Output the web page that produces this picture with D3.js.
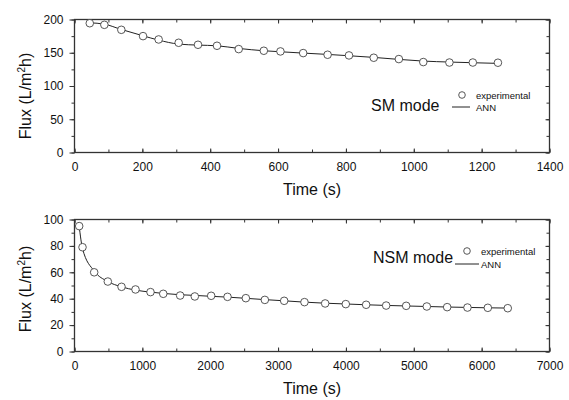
<!DOCTYPE html>
<html>
<head>
<meta charset="utf-8">
<script src="https://cdn.jsdelivr.net/npm/d3@7"></script>
<style>
  body { margin: 0; background: #fff; }
  svg { display: block; font-family: "Liberation Sans", Arial, sans-serif; }
</style>
</head>
<body>
<div id="chart"></div>
<script>
// SM mode (top panel)
var smTime = [45, 88, 138, 202, 248, 307, 364, 420, 484, 558, 607, 674, 746, 809, 882, 956, 1028, 1105, 1174, 1248];
var smExp  = [194.4, 192, 184.5, 175, 170, 165, 162, 160.5, 155.5, 153, 152, 149.5, 147, 146, 142.5, 140.5, 136, 135.3, 135.3, 135];
var smAnn  = [195, 193, 185, 175.5, 169, 163, 161.5, 160.5, 156.5, 153, 151.5, 149.5, 147.5, 145.5, 143, 140, 137.5, 136, 135, 134];

// NSM mode (bottom panel)
var nsmTime = [69, 118, 290, 491, 693, 899, 1120, 1308, 1557, 1773, 2014, 2255, 2525, 2805, 3090, 3389, 3694, 3998, 4298, 4593, 4888, 5192, 5492, 5791, 6091, 6385];
var nsmExp  = [95, 79, 60, 53, 49, 47, 45, 43.7, 42.4, 41.7, 42.2, 41.4, 40.4, 39.1, 38.4, 37.4, 36.4, 35.9, 35.4, 34.8, 34.6, 34.1, 33.6, 33.3, 33.1, 32.8];
var nsmAnn  = [95, 78, 61, 53, 49, 46.5, 45, 44, 43, 42.5, 41.8, 41.2, 40.3, 39.3, 38.4, 37.4, 36.6, 36, 35.4, 34.9, 34.5, 34.1, 33.7, 33.4, 33.1, 32.9];

var smXTicks = [0, 200, 400, 600, 800, 1000, 1200, 1400];
var smYTicks = [0, 50, 100, 150, 200];
var nsmXTicks = [0, 1000, 2000, 3000, 4000, 5000, 6000, 7000];
var nsmYTicks = [0, 20, 40, 60, 80, 100];

var W = 569, H = 400;
var ink = "#333";

var svg = d3.select("#chart").append("svg")
    .attr("width", W)
    .attr("height", H);

function drawPanel(cfg){
    var g = svg.append("g");
    var x = d3.scaleLinear().domain(cfg.xDomain).range([cfg.left, cfg.right]);
    var y = d3.scaleLinear().domain(cfg.yDomain).range([cfg.bottom, cfg.top]);

    var xMinor = d3.range(cfg.xDomain[0], cfg.xDomain[1] + 1e-9, cfg.xMinorStep);
    var yMinor = d3.range(cfg.yDomain[0], cfg.yDomain[1] + 1e-9, cfg.yMinorStep);

    // bottom axis: ticks point inward
    g.append("g")
        .attr("transform", "translate(0," + cfg.bottom + ")")
        .call(d3.axisBottom(x).tickValues(xMinor).tickSize(-3).tickFormat(""))
        .call(function(a){ a.select(".domain").remove(); a.selectAll("line").attr("stroke", ink); });
    g.append("g")
        .attr("transform", "translate(0," + cfg.bottom + ")")
        .call(d3.axisBottom(x).tickValues(cfg.xTicks).tickSize(-4).tickPadding(10).tickFormat(d3.format("d")))
        .call(function(a){
            a.select(".domain").remove();
            a.selectAll("line").attr("stroke", ink);
            a.selectAll("text").attr("font-size", 12).attr("fill", "#111")
                .attr("font-family", "'Liberation Sans', Arial, sans-serif");
        });

    // top axis: ticks point inward
    g.append("g")
        .attr("transform", "translate(0," + cfg.top + ")")
        .call(d3.axisTop(x).tickValues(xMinor).tickSize(-3).tickFormat(""))
        .call(function(a){ a.select(".domain").remove(); a.selectAll("line").attr("stroke", ink); });
    g.append("g")
        .attr("transform", "translate(0," + cfg.top + ")")
        .call(d3.axisTop(x).tickValues(cfg.xTicks).tickSize(-4).tickFormat(""))
        .call(function(a){ a.select(".domain").remove(); a.selectAll("line").attr("stroke", ink); });

    // left axis: ticks point outward
    g.append("g")
        .attr("transform", "translate(" + cfg.left + ",0)")
        .call(d3.axisLeft(y).tickValues(yMinor).tickSize(3).tickFormat(""))
        .call(function(a){ a.select(".domain").remove(); a.selectAll("line").attr("stroke", ink); });
    g.append("g")
        .attr("transform", "translate(" + cfg.left + ",0)")
        .call(d3.axisLeft(y).tickValues(cfg.yTicks).tickSize(5).tickPadding(6).tickFormat(d3.format("d")))
        .call(function(a){
            a.select(".domain").remove();
            a.selectAll("line").attr("stroke", ink);
            a.selectAll("text").attr("font-size", 12).attr("fill", "#111")
                .attr("font-family", "'Liberation Sans', Arial, sans-serif");
        });

    // right axis: ticks point inward
    g.append("g")
        .attr("transform", "translate(" + cfg.right + ",0)")
        .call(d3.axisRight(y).tickValues(yMinor).tickSize(-3).tickFormat(""))
        .call(function(a){ a.select(".domain").remove(); a.selectAll("line").attr("stroke", ink); });
    g.append("g")
        .attr("transform", "translate(" + cfg.right + ",0)")
        .call(d3.axisRight(y).tickValues(cfg.yTicks).tickSize(-4).tickFormat(""))
        .call(function(a){ a.select(".domain").remove(); a.selectAll("line").attr("stroke", ink); });

    // frame
    g.append("rect")
        .attr("x", cfg.left).attr("y", cfg.top)
        .attr("width", cfg.right - cfg.left).attr("height", cfg.bottom - cfg.top)
        .attr("fill", "none").attr("stroke", ink).attr("stroke-width", 1.3);

    // ANN line
    var line = d3.line()
        .x(function(d){ return x(d[0]); })
        .y(function(d){ return y(d[1]); })
        .curve(d3.curveMonotoneX);
    g.append("path")
        .datum(d3.zip(cfg.time, cfg.ann))
        .attr("d", line)
        .attr("fill", "none")
        .attr("stroke", "#222")
        .attr("stroke-width", 1);

    // experimental points
    g.selectAll("circle.pt")
        .data(d3.zip(cfg.time, cfg.exp))
        .enter().append("circle")
        .attr("class", "pt")
        .attr("cx", function(d){ return x(d[0]); })
        .attr("cy", function(d){ return y(d[1]); })
        .attr("r", 3.8)
        .attr("fill", "#fff")
        .attr("stroke", "#444")
        .attr("stroke-width", 0.9);

    // axis titles
    g.append("text")
        .attr("x", (cfg.left + cfg.right) / 2)
        .attr("y", cfg.bottom + 42)
        .attr("text-anchor", "middle")
        .attr("font-size", 16)
        .attr("fill", "#111")
        .text("Time (s)");

    var yt = g.append("text")
        .attr("transform", "translate(" + 31 + "," + cfg.titleY + ") rotate(-90)")
        .attr("text-anchor", "middle")
        .attr("font-size", 16)
        .attr("fill", "#111");
    yt.append("tspan").text("Flux (L/m");
    yt.append("tspan").attr("font-size", 10).attr("dy", -6).text("2");
    yt.append("tspan").attr("dy", 6).text("h)");

    // legend
    var lg = cfg.legend;
    g.append("text")
        .attr("x", lg.labelX).attr("y", lg.labelY)
        .attr("font-size", 16).attr("fill", "#111")
        .text(cfg.mode);
    g.append("circle")
        .attr("cx", lg.symX).attr("cy", lg.expY)
        .attr("r", 3.3)
        .attr("fill", "#fff").attr("stroke", "#444").attr("stroke-width", 0.9);
    g.append("text")
        .attr("x", lg.textX).attr("y", lg.expY + 3.5)
        .attr("font-size", 9.5).attr("fill", "#111")
        .text("experimental");
    g.append("line")
        .attr("x1", lg.lineX1).attr("x2", lg.lineX2)
        .attr("y1", lg.annY).attr("y2", lg.annY)
        .attr("stroke", "#222").attr("stroke-width", 1);
    g.append("text")
        .attr("x", lg.textX).attr("y", lg.annY + 3.5)
        .attr("font-size", 9.5).attr("fill", "#111")
        .text("ANN");
}

drawPanel({
    mode: "SM mode",
    xDomain: [0, 1400], yDomain: [0, 200],
    xTicks: smXTicks, yTicks: smYTicks,
    xMinorStep: 100, yMinorStep: 25,
    left: 74.5, right: 549.5, top: 19.5, bottom: 152.5, titleY: 96,
    time: smTime, exp: smExp, ann: smAnn,
    legend: { labelX: 371, labelY: 111, symX: 462, lineX1: 452, lineX2: 470, textX: 476, expY: 95, annY: 107 }
});

drawPanel({
    mode: "NSM mode",
    xDomain: [0, 7000], yDomain: [0, 100],
    xTicks: nsmXTicks, yTicks: nsmYTicks,
    xMinorStep: 500, yMinorStep: 10,
    left: 74.5, right: 549.5, top: 219.5, bottom: 351.5, titleY: 289,
    time: nsmTime, exp: nsmExp, ann: nsmAnn,
    legend: { labelX: 373, labelY: 263, symX: 467, lineX1: 455, lineX2: 479, textX: 481, expY: 251, annY: 264 }
});
</script>
</body>
</html>
